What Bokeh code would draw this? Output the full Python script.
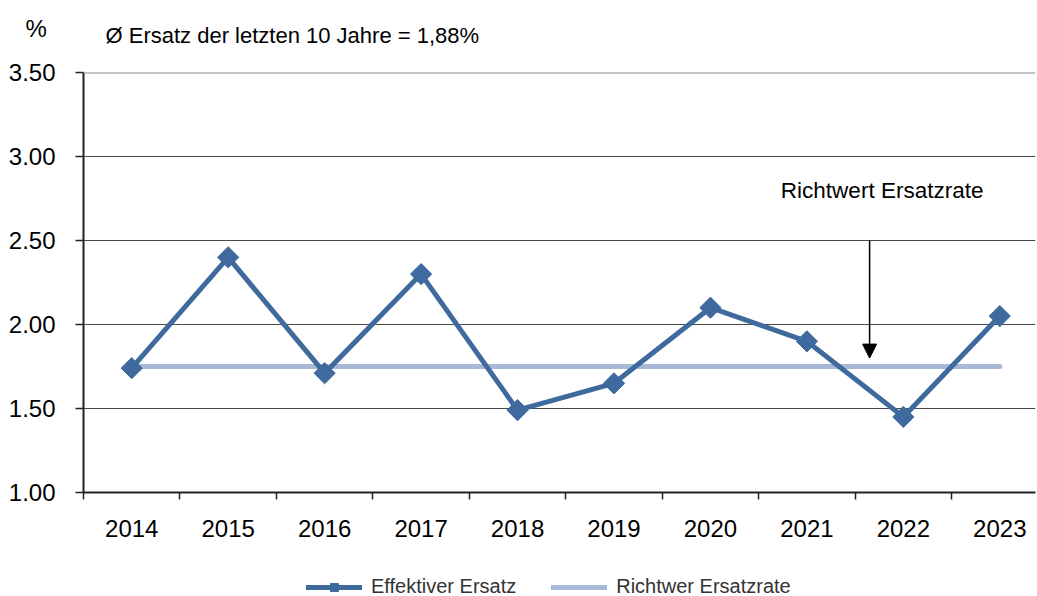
import numpy as np
from bokeh.plotting import figure
from bokeh.layouts import column
from bokeh.models import (FixedTicker, Label, Arrow, NormalHead, Legend, LegendItem, Span,
                          NumeralTickFormatter, Range1d)
from bokeh.embed import file_html
from bokeh.resources import INLINE

years = ["2014", "2015", "2016", "2017", "2018", "2019", "2020", "2021", "2022", "2023"]
effektiv = [1.74, 2.40, 1.71, 2.30, 1.49, 1.65, 2.10, 1.90, 1.45, 2.05]
richtwert = [1.75] * len(years)
y_ticks = [1.0, 1.5, 2.0, 2.5, 3.0, 3.5]
title_text = "Ø Ersatz der letzten 10 Jahre = 1,88%"
unit_text = "%"
annot_text = "Richtwert Ersatzrate"
legend_labels = ["Effektiver Ersatz", "Richtwer Ersatzrate"]

FONT = "Liberation Sans"
DARK = "#3f6a9e"
LIGHT = "#a7b9d7"
W = 1037
H_HEAD, H_MAIN, H_FOOT = 56, 484, 56

n = len(years)
xc = np.arange(n) + 0.5          # category centres
xb = list(range(n + 1))          # category boundaries


def bare(height, x_range, y_range):
    f = figure(width=W, height=height, output_backend="svg", toolbar_location=None,
               x_range=x_range, y_range=y_range, x_axis_location=None, y_axis_location=None,
               min_border=0)
    f.frame_align = False
    f.outline_line_color = None
    f.xgrid.grid_line_color = None
    f.ygrid.grid_line_color = None
    return f


# ---------- header (texts above the chart) ----------
head = bare(H_HEAD, Range1d(0, W), Range1d(H_HEAD, 0))
head.add_layout(Label(x=25, y=28, text=unit_text, text_font=FONT, text_font_size="24px",
                      text_baseline="middle", text_color="black"))
head.add_layout(Label(x=105, y=35, text=title_text, text_font=FONT, text_font_size="22px",
                      text_baseline="middle", text_color="black"))

# ---------- main chart ----------
p = figure(width=W, height=H_MAIN, output_backend="svg", toolbar_location=None,
           x_range=(0, 9.87), y_range=(1.0, 3.5),
           min_border_left=83, min_border_top=72 - H_HEAD, min_border_right=2,
           min_border_bottom=48)
p.outline_line_color = None

xa = p.xaxis[0]
xa.ticker = FixedTicker(ticks=list(xc), minor_ticks=xb)
xa.major_label_overrides = {float(x): y for x, y in zip(xc, years)}
xa.major_tick_line_color = None
xa.major_tick_out = 0
xa.minor_tick_line_color = "#222222"
xa.minor_tick_line_width = 1.5
xa.minor_tick_out = 7
xa.minor_tick_in = 0
xa.axis_line_color = "#222222"
xa.axis_line_width = 2
xa.major_label_text_font = FONT
xa.major_label_text_font_size = "24px"
xa.major_label_text_color = "black"
xa.major_label_standoff = 20

ya = p.yaxis[0]
ya.ticker = FixedTicker(ticks=y_ticks, minor_ticks=[])
ya.formatter = NumeralTickFormatter(format="0.00")
ya.major_tick_out = 8
ya.major_tick_in = 0
ya.major_tick_line_color = "#222222"
ya.major_tick_line_width = 1.5
ya.minor_tick_line_color = None
ya.axis_line_color = "#222222"
ya.axis_line_width = 2
ya.major_label_text_font = FONT
ya.major_label_text_font_size = "24px"
ya.major_label_text_color = "black"
ya.major_label_standoff = 20

p.xgrid.grid_line_color = None
p.ygrid.grid_line_color = "#4a4a4a"
p.ygrid.grid_line_width = 1
p.add_layout(Span(location=y_ticks[-1], dimension="width", line_color="#8a8a8a", line_width=2))

p.line(xc, richtwert, line_color=LIGHT, line_width=5, line_cap="round")
p.line(xc, effektiv, line_color=DARK, line_width=5)
p.scatter(xc, effektiv, marker="square", angle=np.pi / 4, size=15,
          fill_color=DARK, line_color=DARK)

p.add_layout(Arrow(end=NormalHead(size=14, fill_color="black", line_color="black"),
                   x_start=8.15, y_start=2.5, x_end=8.15, y_end=1.80,
                   line_color="black", line_width=1.5))
p.add_layout(Label(x=7.23, y=2.80, text=annot_text, text_font=FONT,
                   text_font_size="22.5px", text_baseline="middle", text_color="black"))

# ---------- footer (legend) ----------
# same series drawn against a range that keeps them out of view; they only feed the legend
foot = bare(H_FOOT, Range1d(0, n), Range1d(-2, -1))
f_eff_line = foot.line(xc, effektiv, line_color=DARK, line_width=5, line_cap="round")
f_eff_pts = foot.scatter(xc, effektiv, marker="square", angle=np.pi / 4, size=15,
                         fill_color=DARK, line_color=DARK)
f_rw = foot.line(xc, richtwert, line_color=LIGHT, line_width=5, line_cap="round")
legend = Legend(items=[LegendItem(label=legend_labels[0], renderers=[f_eff_line, f_eff_pts]),
                       LegendItem(label=legend_labels[1], renderers=[f_rw])],
                orientation="horizontal", location=(306, -2),
                border_line_color=None, background_fill_alpha=0,
                label_text_font=FONT, label_text_font_size="20px", label_text_color="#333333",
                glyph_width=56, glyph_height=20, label_standoff=9, spacing=35,
                margin=0, padding=4)
foot.add_layout(legend)

layout = column(head, p, foot, spacing=0)
open("out.html", "w").write(file_html(layout, INLINE))
